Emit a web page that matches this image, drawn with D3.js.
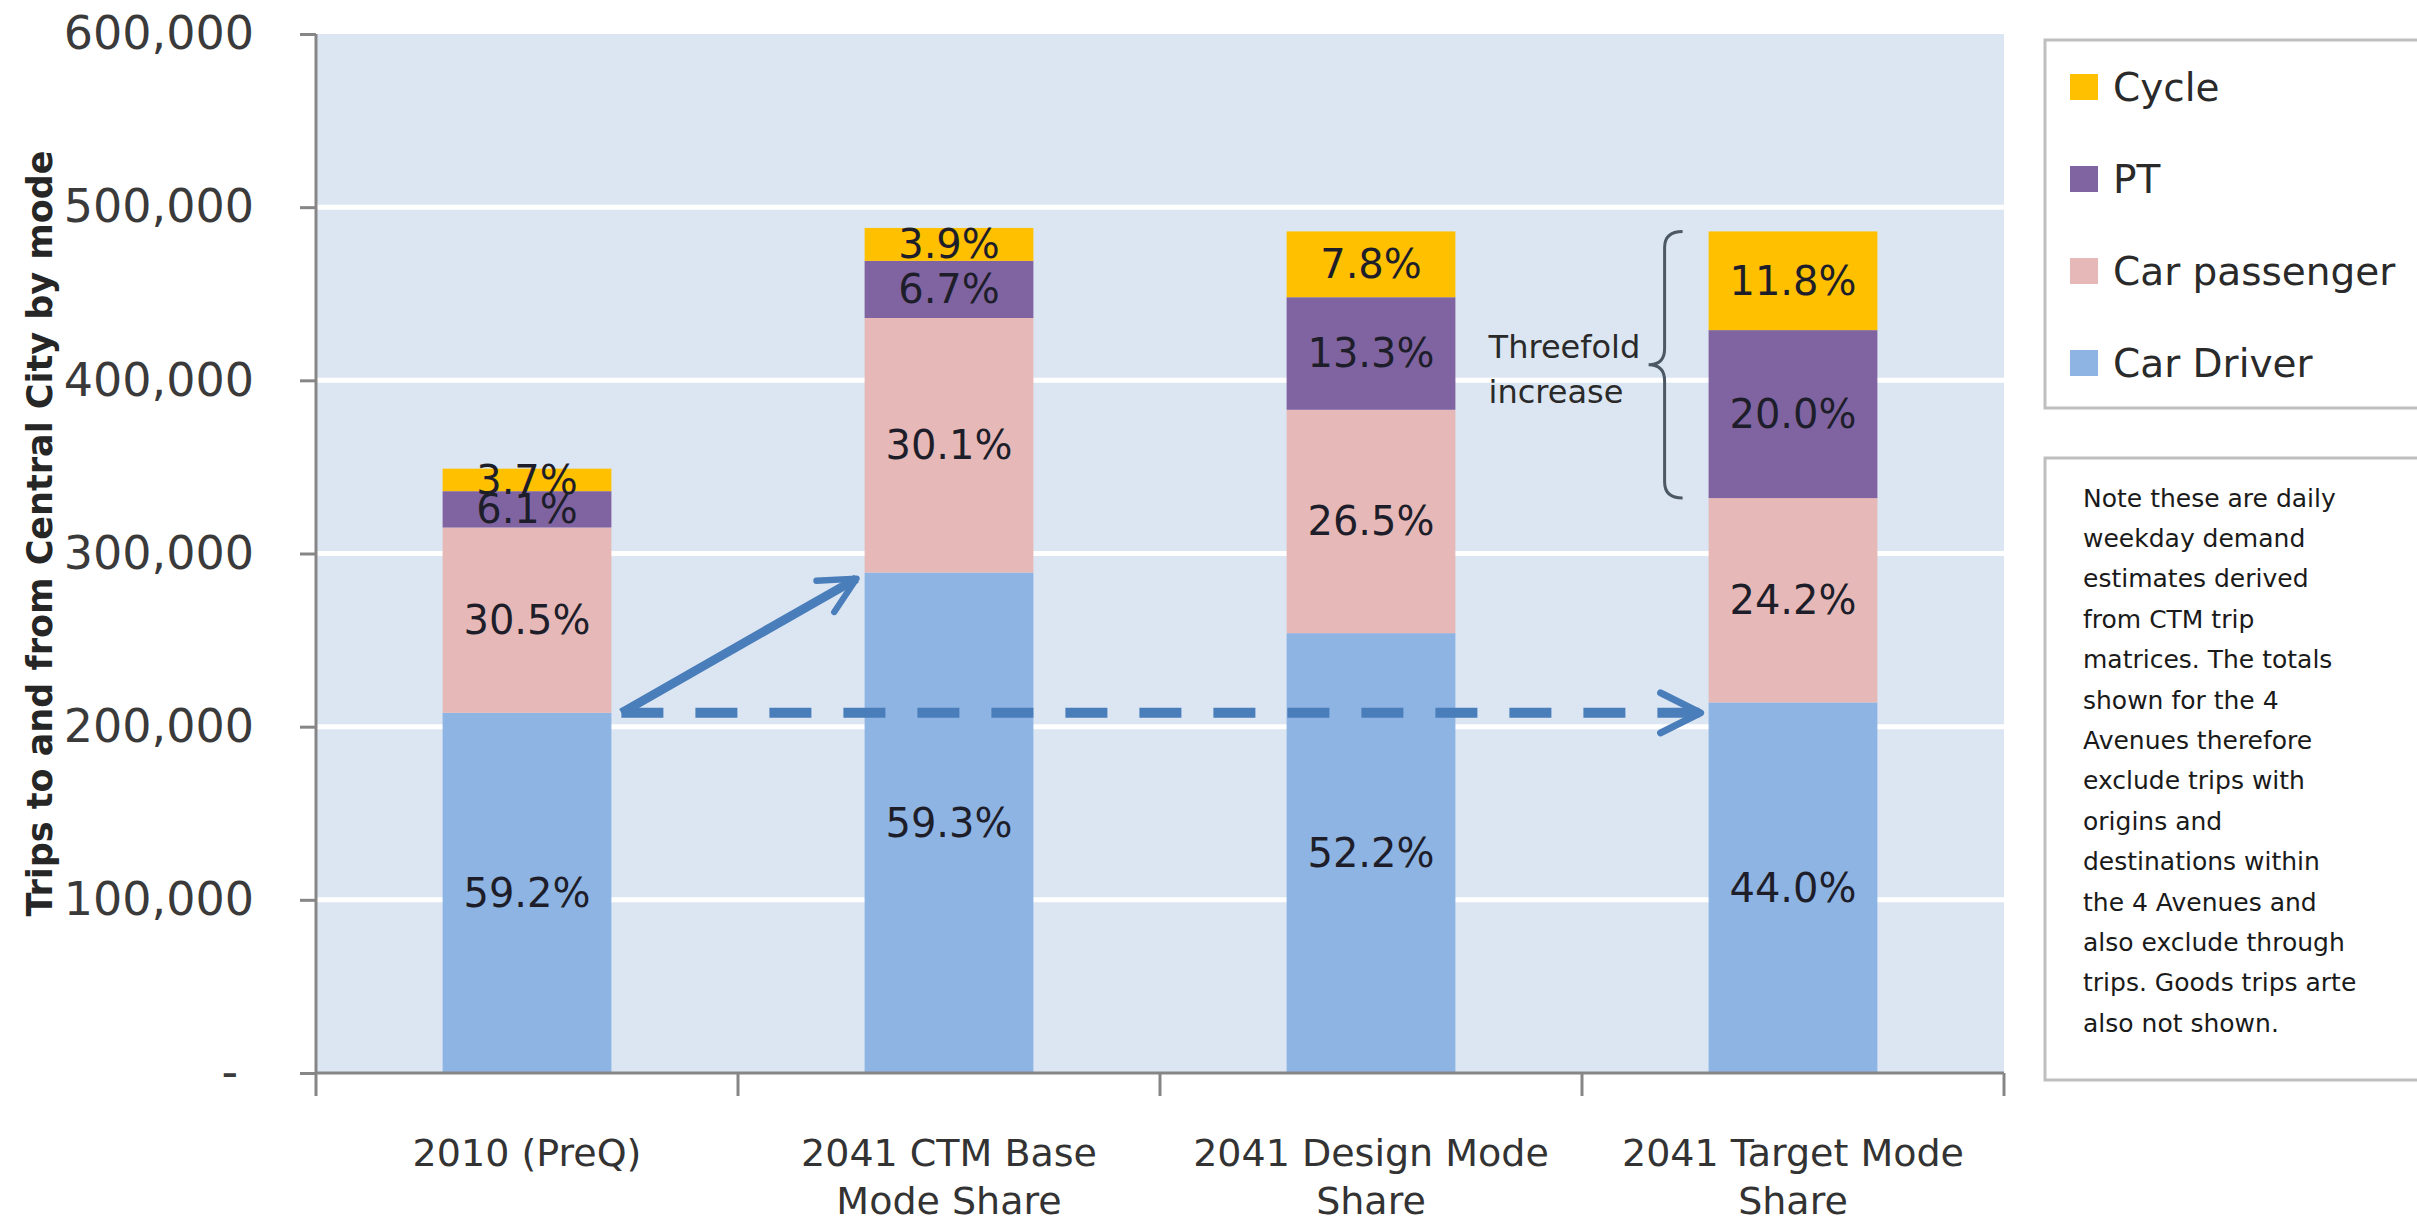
<!DOCTYPE html>
<html>
<head>
<meta charset="utf-8">
<script src="https://cdn.jsdelivr.net/npm/d3@7"></script>
<style>
  body { margin: 0; background: #fff; }
  text { font-family: "DejaVu Sans", sans-serif; fill: #262626; }
</style>
</head>
<body>
<div id="chart"></div>
<script>
var categories = ["2010 (PreQ)", "2041 CTM Base Mode Share", "2041 Design Mode Share", "2041 Target Mode Share"];
var modes = ["Car Driver", "Car passenger", "PT", "Cycle"];

// daily trips
var carDriver = [208000, 289000, 254000, 214000];
var carPassenger = [107000, 147000, 129000, 118000];
var ptTrips = [21000, 33000, 65000, 97000];
var cycleTrips = [13000, 19000, 38000, 57000];

// mode share labels as printed
var driverLabels = ["59.2%", "59.3%", "52.2%", "44.0%"];
var passengerLabels = ["30.5%", "30.1%", "26.5%", "24.2%"];
var ptLabels = ["6.1%", "6.7%", "13.3%", "20.0%"];
var cycleLabels = ["3.7%", "3.9%", "7.8%", "11.8%"];

var yTicks = [0, 100000, 200000, 300000, 400000, 500000, 600000];

var noteLines = ["Note these are daily", "weekday demand", "estimates derived", "from CTM trip",
  "matrices. The totals", "shown for the 4", "Avenues therefore", "exclude trips with",
  "origins and", "destinations within", "the 4 Avenues and", "also exclude through",
  "trips.  Goods trips arte", "also not shown."];

var colors = { "Car Driver": "#8eb4e3", "Car passenger": "#e6b9b8", "PT": "#8064a2", "Cycle": "#ffc000" };

var svgWidth = 2417;
var svgHeight = 1225;
var margin = { top: 34, right: 413, bottom: 152, left: 316 };
var width = svgWidth - margin.left - margin.right;
var height = svgHeight - margin.top - margin.bottom;

var svg = d3.select("#chart").append("svg")
    .attr("width", svgWidth)
    .attr("height", svgHeight);
var chart = svg.append("g")
    .attr("transform", "translate(" + margin.left + "," + margin.top + ")");

var table = categories.map(function (c, i) {
    return { cat: c, "Car Driver": carDriver[i], "Car passenger": carPassenger[i], "PT": ptTrips[i], "Cycle": cycleTrips[i] };
});
var labelSets = { "Car Driver": driverLabels, "Car passenger": passengerLabels, "PT": ptLabels, "Cycle": cycleLabels };
var stacked = d3.stack().keys(modes)(table);

var x = d3.scaleBand().domain(categories).range([0, width]).paddingInner(0.6).paddingOuter(0.3);
var y = d3.scaleLinear().domain([0, 600000]).range([height, 0]);
var step = x.step();

// plot background
chart.append("rect")
    .attr("width", width).attr("height", height)
    .attr("fill", "#dce6f2");

// gridlines
chart.append("g")
    .selectAll("line")
    .data(yTicks.filter(function (d) { return d > 0 && d < 600000; }))
    .enter().append("line")
    .attr("x1", 0).attr("x2", width)
    .attr("y1", function (d) { return y(d); })
    .attr("y2", function (d) { return y(d); })
    .attr("stroke", "#ffffff")
    .attr("stroke-width", 5);

// stacked bars
var layers = chart.selectAll(".layer")
    .data(stacked)
    .enter().append("g")
    .attr("fill", function (d) { return colors[d.key]; });

layers.selectAll("rect")
    .data(function (d) { return d; })
    .enter().append("rect")
    .attr("x", function (d) { return x(d.data.cat); })
    .attr("y", function (d) { return y(d[1]); })
    .attr("height", function (d) { return y(d[0]) - y(d[1]); })
    .attr("width", x.bandwidth());

// segment labels
layers.each(function (layer) {
    d3.select(this).selectAll("text")
        .data(layer)
        .enter().append("text")
        .attr("x", function (d) { return x(d.data.cat) + x.bandwidth() / 2; })
        .attr("y", function (d) { return (y(d[0]) + y(d[1])) / 2; })
        .attr("text-anchor", "middle")
        .attr("dominant-baseline", "central")
        .style("font-size", "40px")
        .style("fill", "#1e1e2a")
        .text(function (d, i) { return labelSets[layer.key][i]; });
});

// y axis
var yAxis = d3.axisLeft(y)
    .tickValues(yTicks)
    .tickSize(16)
    .tickPadding(46)
    .tickFormat(function (d) { return d === 0 ? "-" : d3.format(",")(d); });
var yg = chart.append("g").call(yAxis);
yg.select(".domain").remove();
yg.selectAll(".tick line").attr("stroke", "#868686").attr("stroke-width", 3);
yg.selectAll(".tick text")
    .style("font-size", "46px")
    .style("fill", "#3a3a3a")
    .attr("dx", function (d) { return d === 0 ? -16 : 0; });
chart.append("line")
    .attr("x1", 0).attr("x2", 0)
    .attr("y1", 0).attr("y2", height + 23)
    .attr("stroke", "#868686").attr("stroke-width", 3);

// x axis
var xg = chart.append("g").attr("transform", "translate(0," + height + ")");
xg.append("line")
    .attr("x1", 0).attr("x2", width)
    .attr("stroke", "#868686").attr("stroke-width", 3);
xg.selectAll(".xtick")
    .data(categories)
    .enter().append("line")
    .attr("x1", function (d) { return x(d) + x.bandwidth() / 2 + step / 2; })
    .attr("x2", function (d) { return x(d) + x.bandwidth() / 2 + step / 2; })
    .attr("y1", 0).attr("y2", 23)
    .attr("stroke", "#868686").attr("stroke-width", 3);

var catText = xg.selectAll(".cat")
    .data(categories)
    .enter().append("text")
    .attr("x", function (d) { return x(d) + x.bandwidth() / 2; })
    .attr("y", 93)
    .attr("text-anchor", "middle")
    .style("font-size", "38px")
    .style("fill", "#333333");

catText.each(function (d) {
    var t = d3.select(this);
    var words = d.split(" ");
    var lines = [];
    var line = [];
    var probe = t.append("tspan");
    words.forEach(function (w) {
        line.push(w);
        probe.text(line.join(" "));
        if (probe.node().getComputedTextLength() > step * 0.93 && line.length > 1) {
            line.pop();
            lines.push(line.join(" "));
            line = [w];
        }
    });
    lines.push(line.join(" "));
    probe.remove();
    lines.forEach(function (l, i) {
        t.append("tspan")
            .attr("x", x(d) + x.bandwidth() / 2)
            .attr("dy", i === 0 ? 0 : 48)
            .text(l);
    });
});

// y axis title
svg.append("text")
    .attr("transform", "translate(40," + (margin.top + height / 2 - 20) + ") rotate(-90)")
    .attr("text-anchor", "middle")
    .attr("dominant-baseline", "central")
    .style("font-size", "35px")
    .style("font-weight", "bold")
    .text("Trips to and from Central City by mode");

// arrows
var defs = svg.append("defs");
defs.append("marker")
    .attr("id", "openArrow")
    .attr("viewBox", "0 0 10 10")
    .attr("refX", 9).attr("refY", 5)
    .attr("markerWidth", 5).attr("markerHeight", 5)
    .attr("markerUnits", "strokeWidth")
    .attr("orient", "auto")
    .append("path")
    .attr("d", "M1,1 L9,5 L1,9")
    .attr("fill", "none")
    .attr("stroke", "#4a7ebb")
    .attr("stroke-width", 1.4)
    .attr("stroke-linecap", "round")
    .attr("stroke-linejoin", "round");

var startX = x(categories[0]) + x.bandwidth() + 10;
var startY = y(carDriver[0]);

chart.append("line")
    .attr("x1", startX).attr("y1", startY)
    .attr("x2", x(categories[1]) - 8).attr("y2", y(carDriver[1]) + 6)
    .attr("stroke", "#4a7ebb").attr("stroke-width", 9)
    .attr("marker-end", "url(#openArrow)");

chart.append("line")
    .attr("x1", startX).attr("y1", startY)
    .attr("x2", x(categories[3]) - 8).attr("y2", startY)
    .attr("stroke", "#4a7ebb").attr("stroke-width", 10)
    .attr("stroke-dasharray", "42,32")
    .attr("marker-end", "url(#openArrow)");

// brace over PT + cycle of the target bar
var bTop = y(carDriver[3] + carPassenger[3] + ptTrips[3] + cycleTrips[3]);
var bBot = y(carDriver[3] + carPassenger[3]);
var bMid = (bTop + bBot) / 2;
var bEnd = x(categories[3]) - 26;
var bStem = bEnd - 18;
var bTip = bEnd - 34;
var r = 16;
chart.append("path")
    .attr("d", "M" + bEnd + "," + bTop +
        " Q" + bStem + "," + bTop + " " + bStem + "," + (bTop + r) +
        " L" + bStem + "," + (bMid - r) +
        " Q" + bStem + "," + bMid + " " + bTip + "," + bMid +
        " Q" + bStem + "," + bMid + " " + bStem + "," + (bMid + r) +
        " L" + bStem + "," + (bBot - r) +
        " Q" + bStem + "," + bBot + " " + bEnd + "," + bBot)
    .attr("fill", "none")
    .attr("stroke", "#4d5866")
    .attr("stroke-width", 3);

var annot = chart.append("text")
    .attr("x", bTip - 160)
    .attr("y", bMid - 7)
    .style("font-size", "32px")
    .style("fill", "#2a2a2a");
annot.append("tspan").attr("x", bTip - 160).attr("dy", 0).text("Threefold");
annot.append("tspan").attr("x", bTip - 160).attr("dy", 45).text("increase");

// legend box
var legend = svg.append("g");
legend.append("rect")
    .attr("x", 2045).attr("y", 40)
    .attr("width", 400).attr("height", 368)
    .attr("fill", "#ffffff")
    .attr("stroke", "#bfbfbf").attr("stroke-width", 3);

var legendKeys = modes.slice().reverse();
var legendRow = legend.selectAll(".row")
    .data(legendKeys)
    .enter().append("g")
    .attr("transform", function (d, i) { return "translate(2070," + (87 + i * 92) + ")"; });
legendRow.append("rect")
    .attr("x", 0).attr("y", -13)
    .attr("width", 28).attr("height", 26)
    .attr("fill", function (d) { return colors[d]; });
legendRow.append("text")
    .attr("x", 43).attr("y", 0)
    .attr("dominant-baseline", "central")
    .style("font-size", "39px")
    .style("fill", "#2a2a2a")
    .text(function (d) { return d; });

// note box
var note = svg.append("g");
note.append("rect")
    .attr("x", 2045).attr("y", 458)
    .attr("width", 400).attr("height", 622)
    .attr("fill", "#ffffff")
    .attr("stroke", "#bfbfbf").attr("stroke-width", 3);
note.selectAll("text")
    .data(noteLines)
    .enter().append("text")
    .attr("x", 2083)
    .attr("y", function (d, i) { return 498 + i * 40.4; })
    .attr("dominant-baseline", "central")
    .style("font-size", "25px")
    .style("fill", "#1a1a1a")
    .text(function (d) { return d; });
</script>
</body>
</html>
